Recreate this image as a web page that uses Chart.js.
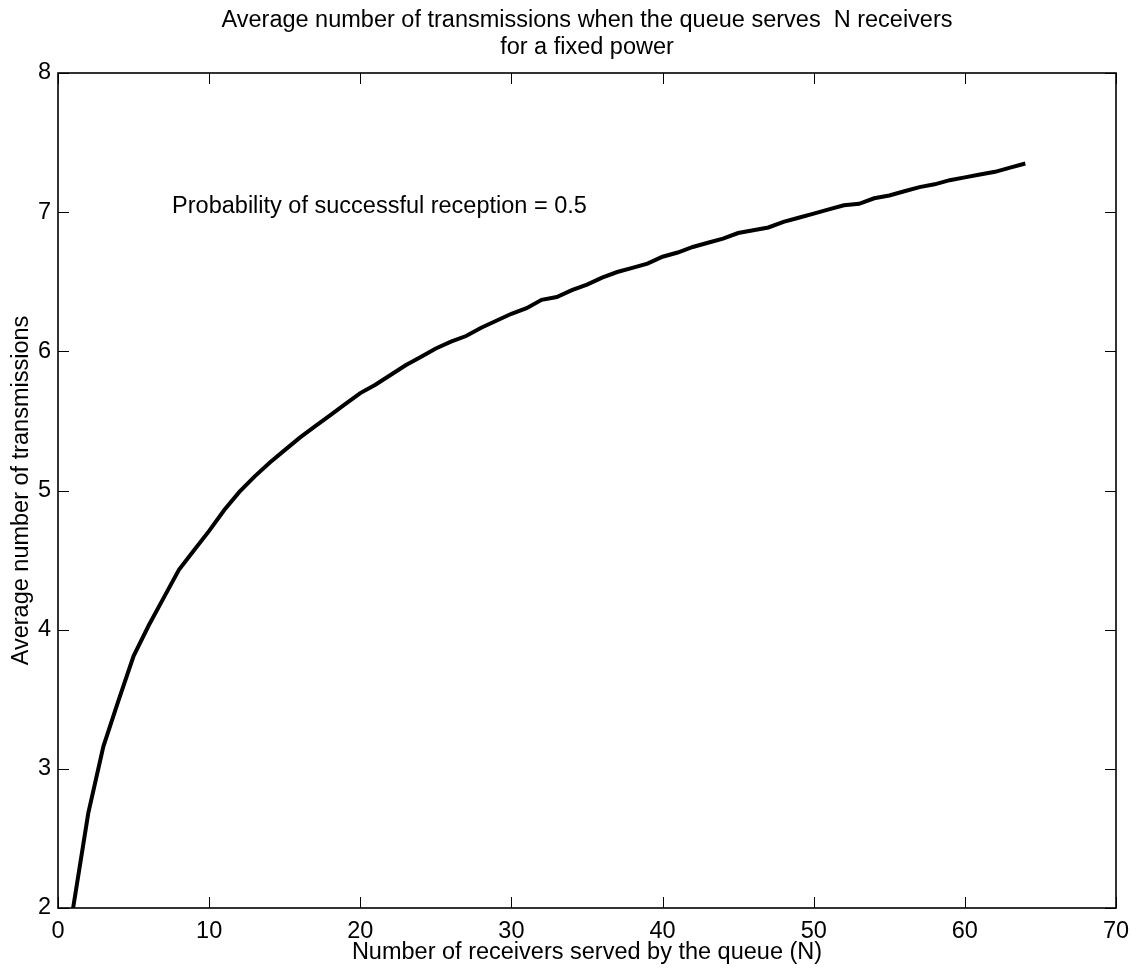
<!DOCTYPE html>
<html>
<head>
<meta charset="utf-8">
<title>Average number of transmissions</title>
<script src="https://cdn.jsdelivr.net/npm/chart.js@4/dist/chart.umd.min.js"></script>
<style>
  html, body { margin: 0; padding: 0; background: #fff; }
  canvas { display: block; }
</style>
</head>
<body>
<canvas id="transmissionsChart" width="1145" height="975"></canvas>
<script>
// N = 1..64
const receivers = [];
for (let n = 1; n <= 64; n++) receivers.push(n);

const avgTransmissions = [
  2.00, 2.68, 3.16, 3.49, 3.81, 4.03, 4.23, 4.43, 4.57, 4.71,
  4.86, 4.99, 5.10, 5.20, 5.29, 5.38, 5.46, 5.54, 5.62, 5.70,
  5.76, 5.83, 5.90, 5.96, 6.02, 6.07, 6.11, 6.17, 6.22, 6.27,
  6.31, 6.37, 6.39, 6.44, 6.48, 6.53, 6.57, 6.60, 6.63, 6.68,
  6.71, 6.75, 6.78, 6.81, 6.85, 6.87, 6.89, 6.93, 6.96, 6.99,
  7.02, 7.05, 7.06, 7.10, 7.12, 7.15, 7.18, 7.20, 7.23, 7.25,
  7.27, 7.29, 7.32, 7.35
];

const xTicks = [0, 10, 20, 30, 40, 50, 60, 70];
const yTicks = [2, 3, 4, 5, 6, 7, 8];

const titleLines = [
  'Average number of transmissions when the queue serves  N receivers',
  'for a fixed power'
];
const noteText = 'Probability of successful reception = 0.5';

const FONT = '"Liberation Sans", Arial, Helvetica, sans-serif';
const FONT_SIZE = 23.5;

// white background, box with inward ticks (MATLAB style), title and note
const matlabFrame = {
  id: 'matlabFrame',
  beforeDraw(chart) {
    const ctx = chart.ctx;
    ctx.save();
    ctx.fillStyle = '#fff';
    ctx.fillRect(0, 0, chart.width, chart.height);
    ctx.restore();
  },
  afterDraw(chart) {
    const ctx = chart.ctx;
    const a = chart.chartArea;
    const xs = chart.scales.x;
    const ys = chart.scales.y;
    const tickLen = 11;
    ctx.save();
    ctx.strokeStyle = '#000';
    ctx.lineWidth = 1;
    ctx.beginPath();
    xTicks.forEach(v => {
      const px = Math.round(xs.getPixelForValue(v)) + 0.5;
      ctx.moveTo(px, a.bottom); ctx.lineTo(px, a.bottom - tickLen);
      ctx.moveTo(px, a.top); ctx.lineTo(px, a.top + tickLen);
    });
    yTicks.forEach(v => {
      const py = Math.round(ys.getPixelForValue(v)) + 0.5;
      ctx.moveTo(a.left, py); ctx.lineTo(a.left + tickLen, py);
      ctx.moveTo(a.right, py); ctx.lineTo(a.right - tickLen, py);
    });
    ctx.stroke();
    ctx.lineWidth = 1.6;
    ctx.strokeRect(a.left, a.top, a.right - a.left, a.bottom - a.top);

    ctx.fillStyle = '#000';
    ctx.font = FONT_SIZE + 'px ' + FONT;
    ctx.textAlign = 'center';
    ctx.textBaseline = 'alphabetic';
    const cx = (a.left + a.right) / 2;
    ctx.fillText(titleLines[0], cx, 26.7);
    ctx.fillText(titleLines[1], cx, 53.5);

    ctx.textAlign = 'left';
    ctx.textBaseline = 'middle';
    ctx.fillText(noteText, xs.getPixelForValue(7.55), ys.getPixelForValue(7.04));
    ctx.restore();
  }
};

const ctx = document.getElementById('transmissionsChart').getContext('2d');
const chart = new Chart(ctx, {
  type: 'line',
  data: {
    datasets: [{
      data: receivers.map((n, i) => ({ x: n, y: avgTransmissions[i] })),
      borderColor: '#000',
      borderWidth: 4,
      pointRadius: 0,
      tension: 0,
      fill: false
    }]
  },
  options: {
    responsive: false,
    animation: false,
    layout: { padding: { top: 73, right: 29, bottom: 0, left: 0 } },
    plugins: {
      legend: { display: false },
      tooltip: { enabled: false },
      title: { display: false }
    },
    scales: {
      x: {
        type: 'linear',
        min: 0,
        max: 70,
        afterFit: s => { s.height = 67; },
        afterBuildTicks: s => { s.ticks = xTicks.map(v => ({ value: v })); },
        grid: { display: false, drawTicks: false },
        border: { display: false },
        ticks: {
          color: '#000',
          padding: 9,
          maxRotation: 0,
          font: { family: FONT, size: FONT_SIZE, lineHeight: 1.2 }
        },
        title: {
          display: true,
          text: 'Number of receivers served by the queue (N)',
          color: '#000',
          padding: { top: 0, bottom: 8 },
          font: { family: FONT, size: FONT_SIZE, lineHeight: 1.2 }
        }
      },
      y: {
        type: 'linear',
        min: 2,
        max: 8,
        afterFit: s => { s.width = 58; },
        afterBuildTicks: s => { s.ticks = yTicks.map(v => ({ value: v })); },
        grid: { display: false, drawTicks: false },
        border: { display: false },
        ticks: {
          color: '#000',
          padding: 7,
          font: { family: FONT, size: FONT_SIZE, lineHeight: 1.2 }
        },
        title: {
          display: true,
          text: 'Average number of transmissions',
          color: '#000',
          padding: { top: 7, bottom: 0 },
          font: { family: FONT, size: FONT_SIZE, lineHeight: 1.2 }
        }
      }
    }
  },
  plugins: [matlabFrame]
});
</script>
</body>
</html>
